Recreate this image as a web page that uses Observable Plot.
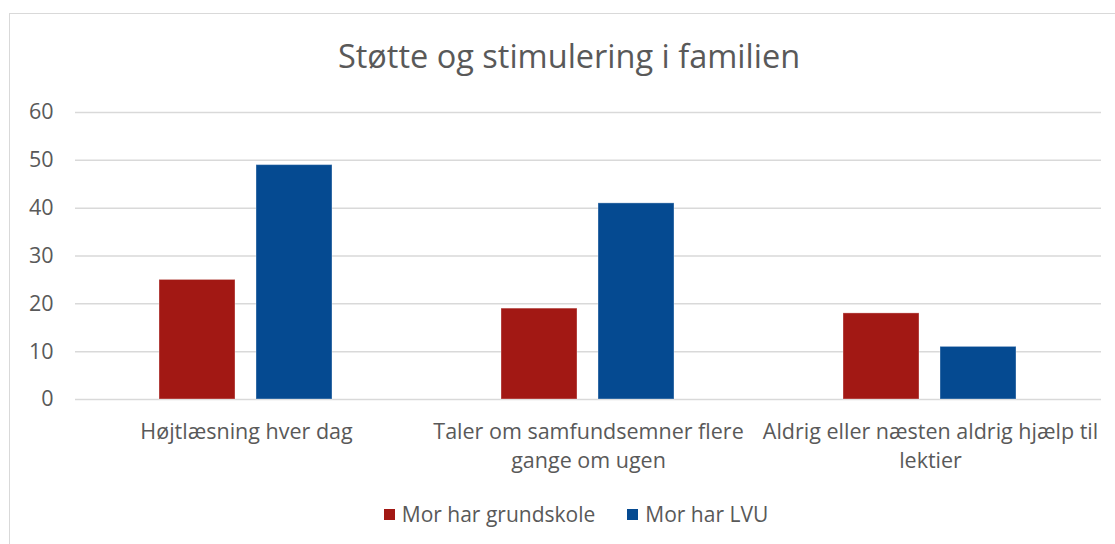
<!DOCTYPE html>
<html>
<head>
<meta charset="utf-8">
<script src="https://cdn.jsdelivr.net/npm/d3@7"></script>
<script src="https://cdn.jsdelivr.net/npm/@observablehq/plot@0.6"></script>
<style>
  html, body { margin: 0; padding: 0; background: #fff; width: 1115px; height: 544px; overflow: hidden; font-family: "Open Sans", sans-serif; }
  #frame { position: absolute; left: 9px; top: 13px; width: 1200px; height: 600px; border: 1.5px solid #d9d9d9; box-sizing: border-box; }
  #title { position: absolute; left: 0; top: 34px; width: 1138px; text-align: center; font-size: 32.5px; color: #595959; line-height: 44px; }
  #chart { position: absolute; left: 0; top: 85px; }
  #legend { position: absolute; left: 0; top: 501px; width: 1152px; display: flex; justify-content: center; gap: 32px; font-size: 21px; color: #595959; line-height: 26px; }
  .item { display: flex; align-items: center; gap: 7px; }
  .sw { width: 11px; height: 11px; display: inline-block; }
</style>
</head>
<body>
<div id="frame"></div>
<div id="title">Støtte og stimulering i familien</div>
<div id="chart"></div>
<div id="legend"></div>
<script>
const categories = [
  "Højtlæsning hver dag",
  "Taler om samfundsemner flere gange om ugen",
  "Aldrig eller næsten aldrig hjælp til lektier"
];
const categoryLabels = [
  "Højtlæsning hver dag",
  "Taler om samfundsemner flere\ngange om ugen",
  "Aldrig eller næsten aldrig hjælp til\nlektier"
];
const seriesNames = ["Mor har grundskole", "Mor har LVU"];
const grundskole = [25, 19, 18];
const lvu = [49, 41, 11];
const seriesColors = ["#A21814", "#054A91"];
const yTicks = [0, 10, 20, 30, 40, 50, 60];

const data = [];
categories.forEach((c, i) => {
  data.push({category: c, series: seriesNames[0], value: grundskole[i]});
  data.push({category: c, series: seriesNames[1], value: lvu[i]});
});
const labelOf = new Map(categories.map((c, i) => [c, categoryLabels[i]]));

const chart = Plot.plot({
  width: 1115,
  height: 400,
  marginLeft: 74,
  marginRight: 14,
  marginTop: 27,
  marginBottom: 86,
  style: {fontFamily: "Open Sans, sans-serif", background: "transparent"},
  fx: {domain: categories, padding: 0},
  x: {domain: seriesNames, paddingInner: 0.214, paddingOuter: 0.852, axis: null},
  y: {domain: [0, 60], ticks: yTicks},
  color: {domain: seriesNames, range: seriesColors},
  marks: [
    Plot.ruleY(yTicks, {stroke: "#d9d9d9", strokeWidth: 1.5}),
    Plot.barY(data, {fx: "category", x: "series", y: "value", fill: "series", stroke: "#ffffff", strokeOpacity: 0.35, strokeWidth: 1}),
    Plot.axisY(yTicks, {tickSize: 0, tickPadding: 22, fontSize: 21.5, fill: "#595959", label: null}),
    Plot.axisFx({anchor: "bottom", tickSize: 0, tickPadding: 19, fontSize: 21.5, fill: "#595959", lineHeight: 1.35, label: null, tickFormat: d => labelOf.get(d)})
  ]
});
document.getElementById("chart").appendChild(chart);

const legend = document.getElementById("legend");
seriesNames.forEach((s, i) => {
  const item = document.createElement("div");
  item.className = "item";
  const sw = document.createElement("span");
  sw.className = "sw";
  sw.style.background = seriesColors[i];
  const t = document.createElement("span");
  t.textContent = s;
  item.appendChild(sw);
  item.appendChild(t);
  legend.appendChild(item);
});
</script>
</body>
</html>
